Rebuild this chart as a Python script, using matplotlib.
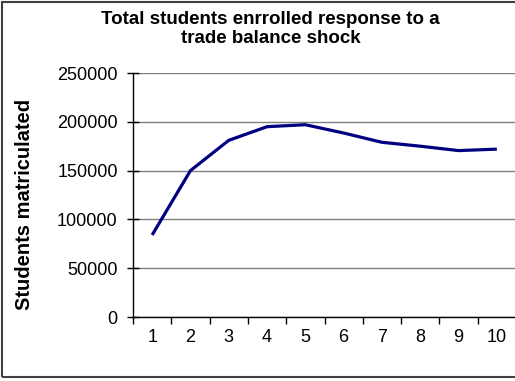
import matplotlib
matplotlib.use("Agg")
import matplotlib.pyplot as plt
from matplotlib.patches import Rectangle
import numpy as np

plt.rcParams['font.family'] = ['Liberation Sans', 'DejaVu Sans']

# data
periods = np.arange(1, 11)
students = [84000, 150000, 181000, 195000, 197000, 188500, 179000, 175000, 170500, 172000]
y_ticks = [0, 50000, 100000, 150000, 200000, 250000]

W, H = 515, 381
fig = plt.figure(figsize=(W / 100, H / 100), dpi=100)
ax = fig.add_axes([133 / W, (H - 317) / H, 383 / W, 244 / H])

for yt in y_ticks:
    ax.axhline(yt, color='#808080', linewidth=1.0, zorder=1)

ax.plot(periods, students, color='#000080', linewidth=2.3, solid_capstyle='butt', zorder=3)

ax.set_xlim(0.5, 10.5)
ax.set_ylim(0, 250000)
ax.set_yticks(y_ticks)
ax.set_yticklabels([str(v) for v in y_ticks], fontsize=13)

# tick marks between categories, labels at the centres
ax.set_xticks(np.arange(0.5, 11, 1))
ax.set_xticklabels([])
ax.set_xticks(periods, minor=True)
ax.set_xticklabels([str(p) for p in periods], minor=True, fontsize=13)
ax.tick_params(axis='x', which='major', direction='out', length=5, width=1)
ax.tick_params(axis='x', which='minor', length=0, pad=9)
ax.tick_params(axis='y', direction='inout', length=8, width=1, pad=7)

for s in ['top', 'right']:
    ax.spines[s].set_visible(False)
for s in ['left', 'bottom']:
    ax.spines[s].set_color('black')
    ax.spines[s].set_linewidth(1.0)

ax.set_ylabel('Students matriculated', fontsize=14.5, fontweight='bold')
ax.yaxis.set_label_coords(-99 / 383, 0.46)

fig.text(0.525, 1 - 29 / H, 'Total students enrrolled response to a\ntrade balance shock',
         ha='center', va='center', fontsize=13.5, fontweight='bold', linespacing=1.1)

fig.patches.append(Rectangle((2 / W, 4 / H), 1.2, 1 - 5.5 / H, transform=fig.transFigure,
                             fill=False, edgecolor='#404040', linewidth=1.5))

plt.savefig('out.png', dpi=100)
